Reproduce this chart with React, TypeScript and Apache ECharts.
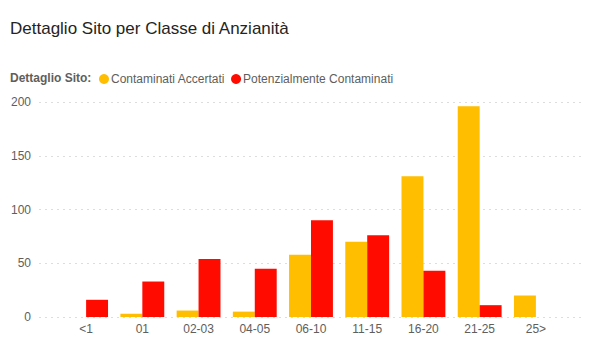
import React, { useEffect, useRef } from "react";
import * as echarts from "echarts";

const categories = ["<1", "01", "02-03", "04-05", "06-10", "11-15", "16-20", "21-25", "25>"];
const accertati = [null, 3, 6, 5, 58, 70, 131, 196, 20];
const potenziali = [16, 33, 54, 45, 90, 76, 43, 11, null];
const seriesNames = ["Contaminati Accertati", "Potenzialmente Contaminati"];
const titleText = "Dettaglio Sito per Classe di Anzianità";
const legendTitle = "Dettaglio Sito:";

const FONT = "'Segoe UI', 'Liberation Sans', Arial, sans-serif";

export default function App() {
  const ref = useRef<HTMLDivElement>(null);
  useEffect(() => {
    if (!ref.current) return;
    const chart = echarts.init(ref.current, null, { renderer: "svg" });
    chart.setOption({
      animation: false,
      backgroundColor: "#ffffff",
      title: {
        text: titleText,
        left: 10,
        top: 20,
        padding: 0,
        textStyle: { fontFamily: FONT, fontSize: 17, fontWeight: "normal", color: "#252423" },
      },
      graphic: [
        {
          type: "text",
          left: 10,
          top: 72,
          style: { text: legendTitle, fontFamily: FONT, fontSize: 12, fontWeight: "bold", fill: "#605E5C" },
        },
      ],
      legend: {
        left: 99,
        top: 73,
        padding: 0,
        icon: "circle",
        itemWidth: 10,
        itemHeight: 10,
        itemGap: 6,
        textStyle: { fontFamily: FONT, fontSize: 12, color: "#605E5C", padding: [0, 0, 0, -3] },
        data: seriesNames,
      },
      grid: [
        { left: 39, right: 10, top: 102, bottom: 41 },
        { left: 58, right: 28, top: 102, bottom: 41 },
      ],
      xAxis: [
        { type: "value", gridIndex: 0, show: false, min: 0, max: 1 },
        {
          type: "category",
          gridIndex: 1,
          data: categories,
          axisLine: { show: false },
          axisTick: { show: false },
          axisLabel: { margin: 6, fontFamily: FONT, fontSize: 12, color: "#605E5C" },
        },
      ],
      yAxis: [
        {
          type: "value",
          gridIndex: 0,
          min: 0,
          max: 200,
          interval: 50,
          axisLine: { show: false },
          axisTick: { show: false },
          axisLabel: { margin: 8, fontFamily: FONT, fontSize: 12, color: "#605E5C" },
          splitLine: { lineStyle: { type: [2, 4], color: "#DDDDDD", width: 1 } },
        },
        { type: "value", gridIndex: 1, min: 0, max: 200, interval: 50, show: false, splitLine: { show: false } },
      ],
      series: [
        {
          name: seriesNames[0],
          type: "bar",
          xAxisIndex: 1,
          yAxisIndex: 1,
          data: accertati,
          barGap: "0%",
          barCategoryGap: "22%",
          itemStyle: { color: "#FFBE00" },
        },
        {
          name: seriesNames[1],
          type: "bar",
          xAxisIndex: 1,
          yAxisIndex: 1,
          data: potenziali,
          barGap: "0%",
          barCategoryGap: "22%",
          itemStyle: { color: "#FF0B00" },
        },
      ],
    });
    return () => chart.dispose();
  }, []);
  return <div ref={ref} style={{ width: 592, height: 358, position: "absolute", left: 0, top: 0 }} />;
}
